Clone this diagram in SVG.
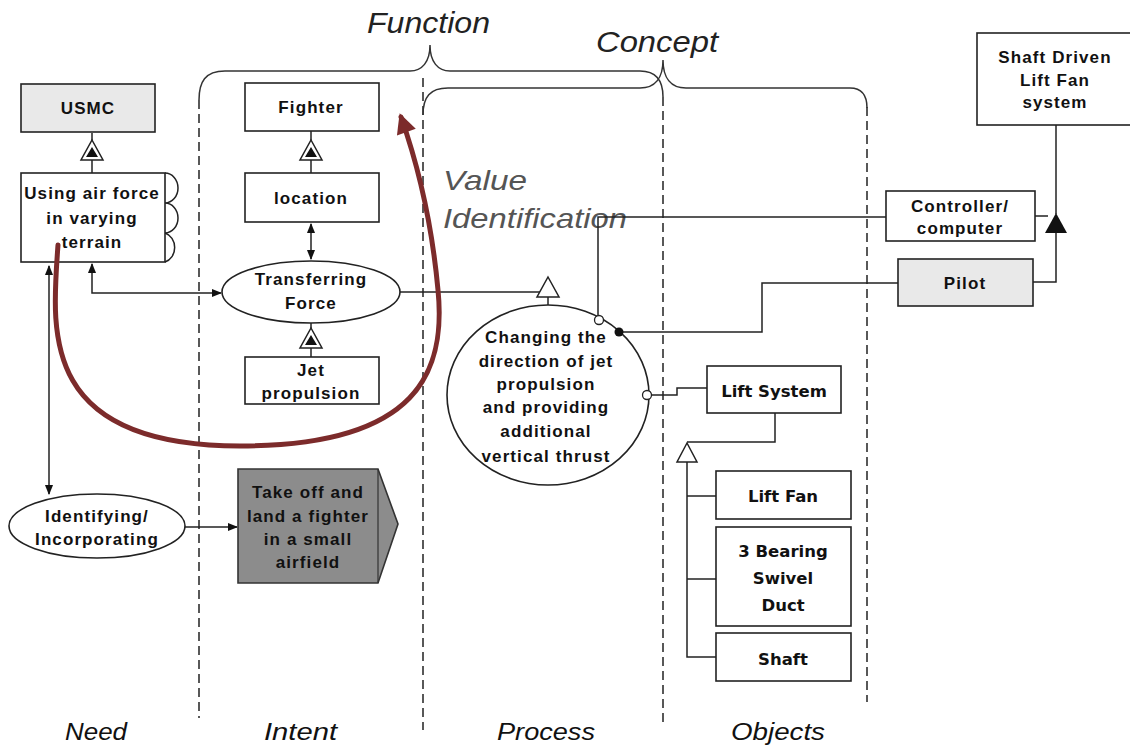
<svg xmlns="http://www.w3.org/2000/svg" width="1130" height="748" viewBox="0 0 1130 748">
  <defs>
    <style>
      .box { fill: #ffffff; stroke: #222; stroke-width: 1.6; }
      .shade { fill: #e9e9e9; stroke: #222; stroke-width: 1.6; }
      .dark { fill: #8c8c8c; stroke: #333; stroke-width: 1.6; }
      .lbl { font-family: "Liberation Sans", Arial, sans-serif; font-weight: bold; font-size: 17px; letter-spacing: 1.1px; fill: #111; text-anchor: middle; }
      .vlbl { font-family: "DejaVu Sans", Verdana, sans-serif; font-weight: bold; font-size: 16.5px; fill: #111; text-anchor: middle; }
      .head { font-family: "Liberation Sans", Arial, sans-serif; font-style: italic; fill: #222; }
      .foot { font-family: "Liberation Sans", Arial, sans-serif; font-style: italic; font-size: 24px; fill: #111; }
      .dash { stroke: #222; stroke-width: 1.5; stroke-dasharray: 9 5; fill: none; }
      .brace { stroke: #333; stroke-width: 1.5; fill: none; }
      .line { stroke: #222; stroke-width: 1.5; fill: none; }
    </style>
    <marker id="arr" viewBox="0 0 10 10" refX="9" refY="5" markerWidth="7" markerHeight="7" orient="auto-start-reverse">
      <path d="M0,1 L10,5 L0,9 z" fill="#111"/>
    </marker>
    <marker id="bigArr" viewBox="0 0 10 10" refX="8" refY="5" markerWidth="4.5" markerHeight="4" orient="auto">
      <path d="M0,0 L10,5 L0,10 z" fill="#7c2b2b"/>
    </marker>
    <!-- aggregation triangle: open outer, filled inner -->
    <g id="agg">
      <path d="M0,0 L11,20 L-11,20 z" fill="#fff" stroke="#222" stroke-width="1.5"/>
      <path d="M0,7 L6,17 L-6,17 z" fill="#111"/>
    </g>
  </defs>

  <rect width="1130" height="748" fill="#ffffff"/>

  <!-- column separators -->
  <g id="columns">
    <line class="dash" x1="199" y1="100" x2="199" y2="718"/>
    <line class="dash" x1="423" y1="78" x2="423" y2="730"/>
    <line class="dash" x1="663" y1="97" x2="663" y2="726"/>
    <line class="dash" x1="867" y1="107" x2="867" y2="702"/>
  </g>

  <!-- braces and headings -->
  <g id="braces">
    <path class="brace" d="M199 100 C199 82 205 71 225 71 L410 71 C422 71 430 62 430 45 C430 62 438 71 450 71 L640 71 C655 71 663 80 663 97"/>
    <path class="brace" d="M423 115 C423 97 430 88 448 88 L640 88 C655 88 663 78 663 60 C663 78 671 88 686 88 L850 88 C862 88 867 95 867 108"/>
    <text class="head" x="367" y="33" font-size="30" textLength="123" lengthAdjust="spacingAndGlyphs">Function</text>
    <text class="head" x="596" y="52" font-size="30" textLength="122" lengthAdjust="spacingAndGlyphs">Concept</text>
    <text class="head" x="443" y="190" font-size="28" style="fill:#555" textLength="84" lengthAdjust="spacingAndGlyphs">Value</text>
    <text class="head" x="443" y="228" font-size="28" style="fill:#555" textLength="184" lengthAdjust="spacingAndGlyphs">Identification</text>
  </g>

  <!-- connectors -->
  <g id="connectors">
    <!-- aggregation stems -->
    <line class="line" x1="92" y1="133" x2="92" y2="140"/>
    <line class="line" x1="92" y1="160" x2="92" y2="173"/>
    <use href="#agg" x="92" y="140"/>
    <line class="line" x1="311" y1="131" x2="311" y2="140"/>
    <line class="line" x1="311" y1="160" x2="311" y2="173"/>
    <use href="#agg" x="311" y="140"/>
    <line class="line" x1="311" y1="323" x2="311" y2="328"/>
    <line class="line" x1="311" y1="348" x2="311" y2="357"/>
    <use href="#agg" x="311" y="328"/>

    <!-- location <-> Transferring Force -->
    <line class="line" x1="311" y1="224" x2="311" y2="259" marker-start="url(#arr)" marker-end="url(#arr)"/>
    <!-- Using air force <-> Transferring Force -->
    <path class="line" d="M92 264 L92 293 L221 293" marker-start="url(#arr)" marker-end="url(#arr)"/>
    <!-- Using air force <-> Identifying -->
    <line class="line" x1="49" y1="266" x2="49" y2="494" marker-start="url(#arr)" marker-end="url(#arr)"/>
    <!-- Identifying -> goal -->
    <line class="line" x1="185" y1="527" x2="237" y2="527" marker-end="url(#arr)"/>

    <!-- Transferring Force -> process (generalisation) -->
    <line class="line" x1="400" y1="292" x2="540" y2="292"/>
    <path d="M548 277 L559 297 L537 297 z" fill="#fff" stroke="#222" stroke-width="1.5"/>
    <line class="line" x1="548" y1="297" x2="548" y2="305"/>

    <!-- Controller -->
    <path class="line" d="M598 317 L598 217 L886 217"/>
    <!-- Pilot -->
    <path class="line" d="M619 332 L762 332 L762 283 L898 283"/>
    <!-- Lift System -->
    <path class="line" d="M651 395 L677 395 L677 388 L707 388"/>

    <!-- Lift System decomposition -->
    <path class="line" d="M775 413 L775 442 L687 442"/>
    <path d="M687 443 L697 462 L677 462 z" fill="#fff" stroke="#222" stroke-width="1.5"/>
    <path class="line" d="M687 462 L687 657 L716 657"/>
    <line class="line" x1="687" y1="496" x2="716" y2="496"/>
    <line class="line" x1="687" y1="579" x2="716" y2="579"/>

    <!-- Shaft Driven system composition -->
    <line class="line" x1="1056" y1="125" x2="1056" y2="214"/>
    <line class="line" x1="1035" y1="216" x2="1048" y2="216"/>
    <path class="line" d="M1056 232 L1056 282 L1033 282"/>
    <path d="M1056 213 L1067 233 L1045 233 z" fill="#111"/>
  </g>

  <!-- Need column -->
  <g id="usmc">
    <rect class="shade" x="21" y="84" width="134" height="48"/>
    <text class="lbl" x="88" y="114">USMC</text>
  </g>
  <g id="using-air-force">
    <path class="line" d="M165 173 A13 15 0 0 1 165 203 A13 15 0 0 1 165 233 A13 15 0 0 1 165 262"/>
    <rect class="box" x="21" y="173" width="144" height="89"/>
    <text class="lbl" x="92" y="199">Using air force</text>
    <text class="lbl" x="92" y="224">in varying</text>
    <text class="lbl" x="92" y="248">terrain</text>
  </g>
  <g id="identifying">
    <ellipse class="box" cx="97" cy="526" rx="88" ry="32"/>
    <text class="lbl" x="97" y="522">Identifying/</text>
    <text class="lbl" x="97" y="545">Incorporating</text>
  </g>

  <!-- Intent column -->
  <g id="fighter">
    <rect class="box" x="245" y="83" width="134" height="48"/>
    <text class="lbl" x="311" y="113">Fighter</text>
  </g>
  <g id="location">
    <rect class="box" x="245" y="173" width="134" height="49"/>
    <text class="lbl" x="311" y="204">location</text>
  </g>
  <g id="transferring-force">
    <ellipse class="box" cx="311" cy="292" rx="89" ry="31"/>
    <text class="lbl" x="311" y="285">Transferring</text>
    <text class="lbl" x="311" y="309">Force</text>
  </g>
  <g id="jet-propulsion">
    <rect class="box" x="245" y="357" width="134" height="47"/>
    <text class="lbl" x="311" y="376">Jet</text>
    <text class="lbl" x="311" y="399">propulsion</text>
  </g>
  <g id="goal">
    <path class="dark" d="M238 469 L378 469 L398 524 L378 583 L238 583 z"/>
    <line x1="378" y1="469" x2="378" y2="583" stroke="#333" stroke-width="1.2"/>
    <text class="lbl" x="308" y="498">Take off and</text>
    <text class="lbl" x="308" y="522">land a fighter</text>
    <text class="lbl" x="308" y="545">in a small</text>
    <text class="lbl" x="308" y="568">airfield</text>
  </g>

  <!-- Process column -->
  <g id="changing-direction">
    <ellipse class="box" cx="548" cy="395" rx="101" ry="90"/>
    <text class="lbl" x="546" y="343">Changing the</text>
    <text class="lbl" x="546" y="367">direction of jet</text>
    <text class="lbl" x="546" y="390">propulsion</text>
    <text class="lbl" x="546" y="413">and providing</text>
    <text class="lbl" x="546" y="437">additional</text>
    <text class="lbl" x="546" y="462">vertical thrust</text>
  </g>

  <!-- Objects column -->
  <g id="lift-system">
    <rect class="box" x="707" y="366" width="134" height="47"/>
    <text class="vlbl" x="774" y="397">Lift System</text>
  </g>
  <g id="lift-fan">
    <rect class="box" x="716" y="471" width="135" height="48"/>
    <text class="vlbl" x="783" y="502">Lift Fan</text>
  </g>
  <g id="swivel-duct">
    <rect class="box" x="716" y="527" width="135" height="99"/>
    <text class="vlbl" x="783" y="557">3 Bearing</text>
    <text class="vlbl" x="783" y="584">Swivel</text>
    <text class="vlbl" x="783" y="611">Duct</text>
  </g>
  <g id="shaft">
    <rect class="box" x="716" y="633" width="135" height="48"/>
    <text class="vlbl" x="783" y="665">Shaft</text>
  </g>

  <!-- system side -->
  <g id="shaft-driven">
    <rect class="box" x="977" y="33" width="160" height="92"/>
    <text class="lbl" x="1055" y="63">Shaft Driven</text>
    <text class="lbl" x="1055" y="86">Lift Fan</text>
    <text class="lbl" x="1055" y="108">system</text>
  </g>
  <g id="controller">
    <rect class="box" x="886" y="191" width="149" height="50"/>
    <text class="lbl" x="960" y="212">Controller/</text>
    <text class="lbl" x="960" y="234">computer</text>
  </g>
  <g id="pilot">
    <rect class="shade" x="898" y="259" width="135" height="47"/>
    <text class="lbl" x="965" y="289">Pilot</text>
  </g>

  <!-- ports on the process bubble and the value loop, drawn over the nodes -->
  <g id="overlay-connectors">
    <circle cx="599" cy="320" r="4.5" fill="#fff" stroke="#222" stroke-width="1.3"/>
    <circle cx="619" cy="332" r="4.5" fill="#111"/>
    <circle cx="647" cy="395" r="4.5" fill="#fff" stroke="#222" stroke-width="1.3"/>
    <path d="M58 245 C52 330 38 446 240 446 C420 446 446 370 438 290 C432 225 418 165 401 117" fill="none" stroke="#7c2b2b" stroke-width="5" stroke-linecap="round" marker-end="url(#bigArr)"/>
  </g>

  <!-- column titles -->
  <g id="titles">
    <text class="foot" x="65" y="740" textLength="62" lengthAdjust="spacingAndGlyphs">Need</text>
    <text class="foot" x="264" y="740" textLength="73" lengthAdjust="spacingAndGlyphs">Intent</text>
    <text class="foot" x="497" y="740" textLength="98" lengthAdjust="spacingAndGlyphs">Process</text>
    <text class="foot" x="731" y="740" textLength="94" lengthAdjust="spacingAndGlyphs">Objects</text>
  </g>
</svg>
